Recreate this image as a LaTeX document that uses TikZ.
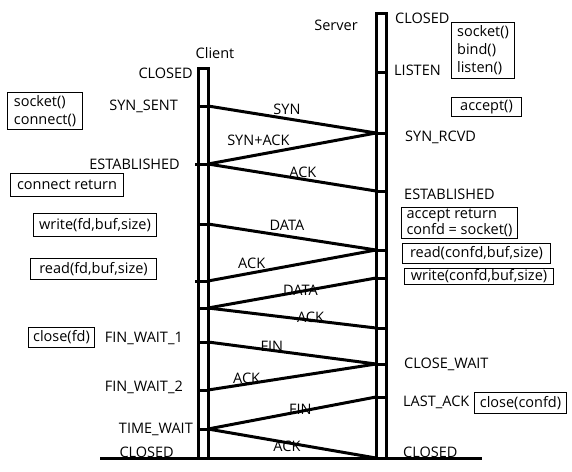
\documentclass[tikz,border=0pt]{standalone}
\usepackage{fontspec}
\setmainfont{Open Sans}
\usetikzlibrary{positioning}

\tikzset{
	ligne/.style={line width=3pt},
	etat/.style={inner sep=0pt},
	msg/.style={inner sep=0pt},
	appel/.style={draw, line width=1pt, anchor=north west, align=left, inner xsep=2pt, inner ysep=1pt},
}

\begin{document}
\begin{tikzpicture}[x=1pt, y=-1pt, font=\fontsize{14.5}{18}\selectfont]
	\useasboundingbox (0,0) rectangle (572,471);
	
	%client
	\coordinate (ct) at (198,68);
	\coordinate (cb) at (208,458);
	\coordinate (c1) at (208,106);
	\coordinate (c2) at (208,164);
	\coordinate (c3) at (208,224);
	\coordinate (c4) at (208,281);
	\coordinate (c5) at (208,308);
	\coordinate (c6) at (208,342);
	\coordinate (c7) at (208,390);
	\coordinate (c8) at (208,429);
	
	\draw[ligne] (198,458) -- (ct) -| (cb);
	\foreach \c in {c1,c3,c5,c6,c7,c8}
		\draw[ligne] (\c) -- ++(-10,0);
	\draw[ligne] (c2) -- ++(-13,0);
	\draw[ligne] (c4) -- ++(-13,0);
	
	\node (client) at (215,53) {Client};
	\node[etat, below left = 0pt and 5pt of ct] (cclosed) {CLOSED};
	\node[etat, left = 30pt of c1] (csent) {SYN\_SENT};
	\node[etat, left = 28pt of c2] (cestab) {ESTABLISHED};
	\node[etat, left = 25pt of c6, yshift=4pt] (cfin1) {FIN\_WAIT\_1};
	\node[etat, left = 25pt of c7, yshift=3pt] (cfin2) {FIN\_WAIT\_2};
	\node[etat, left = 15pt of c8] (ctime) {TIME\_WAIT};
	\node[etat, above left = 0pt and 34pt of cb] (cend) {CLOSED};
	
	%server
	\coordinate (st) at (376,13);
	\coordinate (sb) at (386,458);
	\coordinate (s1) at (376,72);
	\coordinate (s2) at (376,133);
	\coordinate (s3) at (376,191);
	\coordinate (s4) at (376,250);
	\coordinate (s5) at (376,278);
	\coordinate (s6) at (376,328);
	\coordinate (s7) at (376,364);
	\coordinate (s8) at (376,397);
	\coordinate (s9) at (376,458);
	
	\draw[ligne] (376,458) -- (st) -| (sb);
	\foreach \s in {s1,s2,s3,s4,s5,s6,s7,s8}
		\draw[ligne] (\s) -- ++(10,0);
	
	\node (server) at (336,25) {Server};
	\node[etat, below right = 0pt and 19pt of st] (sclosed) {CLOSED};
	\node[etat, right = 18pt of s1, yshift=2pt] (slisten) {LISTEN};
	\node[etat, right = 29pt of s2, yshift=-4pt] (srcvd) {SYN\_RCVD};
	\node[etat, right = 28pt of s3, yshift=-3pt] (sestab) {ESTABLISHED};
	\node[etat, right = 28pt of s7] (swait) {CLOSE\_WAIT};
	\node[etat, right = 27pt of s8, yshift=-5pt] (slast) {LAST\_ACK};
	\node[etat, above right = 0pt and 27pt of s9] (send) {CLOSED};
	
	\draw[ligne] (100,458) -- (482,458);
	
	%messages
	\draw[ligne] (c1) -- node[msg, pos=.47, yshift=9pt] (m1) {SYN} (s2);
	\draw[ligne] (s2) -- node[msg, pos=.70, yshift=14pt] (m2) {SYN+ACK} (c2);
	\draw[ligne] (c2) -- node[msg, pos=.565, yshift=7pt] (m3) {ACK} (s3);
	\draw[ligne] (c3) -- node[msg, pos=.47, yshift=11pt] (m4) {DATA} (s4);
	\draw[ligne] (s4) -- node[msg, pos=.74, yshift=10pt] (m5) {ACK} (c4);
	\draw[ligne] (s5) -- node[msg, pos=.45, yshift=1.5pt] (m6) {DATA} (c5);
	\draw[ligne] (c5) -- node[msg, pos=.61, yshift=3pt] (m7) {ACK} (s6);
	\draw[ligne] (c6) -- node[msg, pos=.38, yshift=4pt] (m8) {FIN} (s7);
	\draw[ligne] (s7) -- node[msg, pos=.77, yshift=6pt] (m9) {ACK} (c7);
	\draw[ligne] (s8) -- node[msg, pos=.45, yshift=2.5pt] (m10) {FIN} (c8);
	\draw[ligne] (c8) -- node[msg, pos=.47, yshift=-4pt] (m11) {ACK} (s9);
	
	%appels client
	\node[appel, minimum width=75pt, minimum height=37pt] (sockc) at (7,92) {socket()\\connect()};
	\node[appel, minimum width=113pt, minimum height=23pt] (conret) at (10,173) {connect return};
	\node[appel, minimum width=123pt, minimum height=23pt] (wrc) at (33,213) {write(fd,buf,size)};
	\node[appel, minimum width=126pt, minimum height=21pt] (rdc) at (30,258) {read(fd,buf,size)};
	\node[appel, minimum width=66pt, minimum height=20pt] (clc) at (28,327) {close(fd)};
	
	%appels serveur
	\node[appel, minimum width=63pt, minimum height=56pt] (socks) at (451,22) {socket()\\bind()\\listen()};
	\node[appel, minimum width=70pt, minimum height=19pt] (acc) at (451,97) {accept()};
	\node[appel, minimum width=116pt, minimum height=31pt, inner ysep=0pt, font=\fontsize{14.5}{16}\selectfont] (accret) at (401,207) {accept return\\confd = socket()};
	\node[appel, minimum width=148pt, minimum height=20pt] (rds) at (402,243) {read(confd,buf,size)};
	\node[appel, minimum width=149pt, minimum height=16pt, inner ysep=0pt] (wrs) at (404,268) {write(confd,buf,size)};
	\node[appel, minimum width=92pt, minimum height=21pt] (cls) at (474,392) {close(confd)};
	
\end{tikzpicture}
\end{document}
